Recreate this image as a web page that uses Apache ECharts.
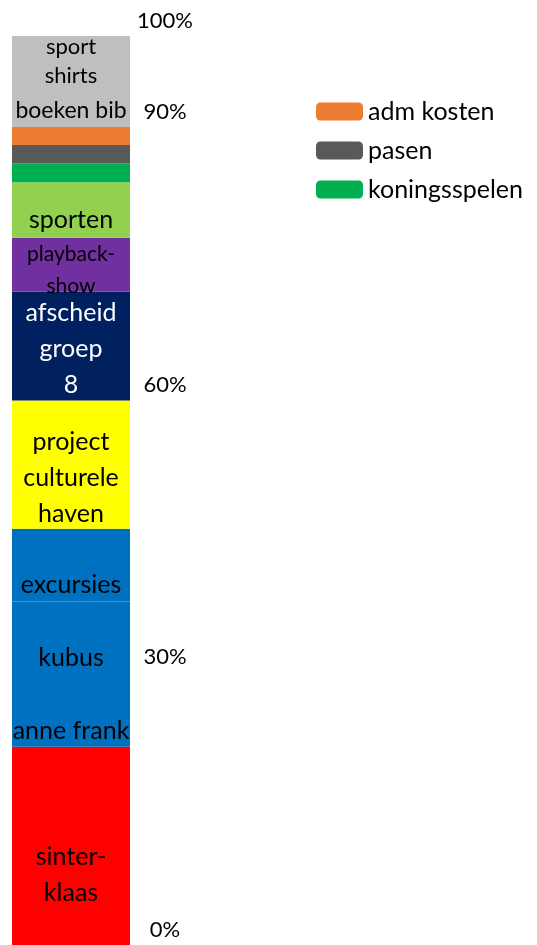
<!DOCTYPE html>
<html>
<head>
<meta charset="utf-8">
<script src="https://cdn.jsdelivr.net/npm/echarts@6/dist/echarts.min.js"></script>
<style>
  html, body { margin: 0; padding: 0; background: #fff; }
  #chart { width: 537px; height: 945px; }
</style>
</head>
<body>
<div id="chart"></div>
<script>
// one stacked 100% bar, bottom segment first
var category = ['kosten'];
var segNames = ['sinterklaas', 'anne frank', 'kubus', 'excursies', 'project culturele haven',
  'afscheid groep 8', 'playback-show', 'sporten', 'koningsspelen', 'pasen', 'adm kosten',
  'boeken bib', 'sport shirts'];
var segValues = [21.8, 3.5, 12.5, 8.0, 14.1, 12.0, 5.9, 6.1, 2.1, 2.0, 2.0, 3.5, 6.5];
var segLabels = ['sinter-\nklaas', 'anne frank', 'kubus', 'excursies', 'project\nculturele\nhaven',
  'afscheid\ngroep\n8', 'playback-\nshow', 'sporten', '', '', '', 'boeken bib', 'sport\nshirts'];
var legendNames = ['adm kosten', 'pasen', 'koningsspelen'];

// styles
var segColors = ['#FF0000', '#0070C0', '#0070C0', '#0070C0', '#FFFF00', '#002060', '#7030A0',
  '#92D050', '#00B050', '#595959', '#ED7D31', '#BFBFBF', '#BFBFBF'];
var labelColors = ['#000', '#000', '#000', '#000', '#000', '#fff', '#000', '#000', '#000', '#000', '#000', '#000', '#000'];
var labelDy = [29, 0, 0, 20, 13, 3, 6, 10, 0, 0, 0, 0, -4];
var labelSize = [25, 25, 25, 25, 25, 25, 21, 25, 25, 25, 25, 23, 22];
var labelLine = [36, 36, 36, 36, 36, 36, 32, 36, 36, 36, 36, 36, 29];

var FONT = 'Lato';

var series = segNames.map(function (name, i) {
  return {
    name: name,
    type: 'bar',
    stack: 'total',
    barWidth: '100%',
    data: [segValues[i]],
    itemStyle: { color: segColors[i] },
    label: {
      show: segLabels[i] !== '',
      position: 'inside',
      formatter: segLabels[i],
      color: labelColors[i],
      fontFamily: FONT,
      fontSize: labelSize[i],
      lineHeight: labelLine[i],
      offset: [0, labelDy[i]]
    },
    emphasis: { disabled: true }
  };
});

var myChart = echarts.init(document.getElementById('chart'));
var option = {
  animation: false,
  grid: { left: 12, width: 118, top: 36, bottom: 0 },
  legend: {
    data: legendNames,
    orient: 'vertical',
    left: 316,
    top: 98,
    padding: 0,
    itemWidth: 47,
    itemHeight: 18,
    itemGap: 12,
    icon: 'roundRect',
    textStyle: { fontFamily: FONT, fontSize: 25, color: '#000', lineHeight: 27 }
  },
  xAxis: {
    type: 'category',
    data: category,
    show: false
  },
  yAxis: {
    type: 'value',
    position: 'right',
    min: 0,
    max: 100,
    interval: 30,
    axisLine: { show: false },
    splitLine: { show: false },
    axisTick: { show: true, inside: true, length: 3, lineStyle: { color: '#fff' } },
    minorTick: { show: true, splitNumber: 3, length: 3, lineStyle: { color: '#fff' } },
    axisLabel: {
      formatter: '{value}%',
      align: 'center',
      verticalAlign: 'bottom',
      margin: 35,
      padding: [0, 0, 4, 0],
      fontFamily: FONT,
      fontSize: 22,
      color: '#000'
    }
  },
  series: series
};
myChart.setOption(option);
</script>
</body>
</html>
